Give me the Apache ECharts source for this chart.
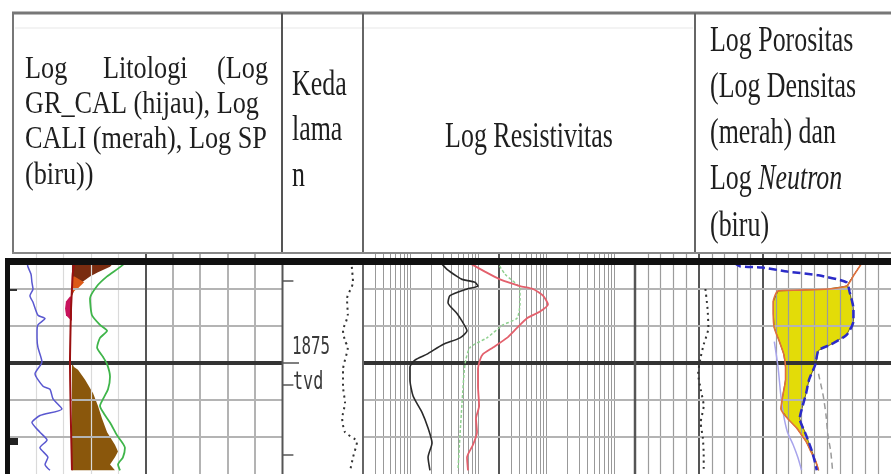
<!DOCTYPE html>
<html>
<head>
<meta charset="utf-8">
<script src="https://cdn.jsdelivr.net/npm/echarts@6/dist/echarts.min.js"></script>
<style>
html, body { margin: 0; padding: 0; background: #fff; }
#chart { width: 891px; height: 474px; }
</style>
</head>
<body>
<div id="chart"></div>
<script>
// kedalaman (tvd) dan garis grid
const gridDepths = [1855, 1865, 1885, 1895]
const markerDepth = 1875
const depthTicks = [1852.9, 1875, 1880.8, 1899.7]

// track 1 - litologi, skala 0-150
const spLog = [[9.9,1847.6],[10.4,1849],[12.1,1851],[12.6,1853.2],[13.2,1855],[11.5,1856.8],[13.2,1858.6],[15.9,1862.1],[19.8,1863],[15.9,1864.7],[15.4,1866.3],[15.4,1868.2],[15.9,1870.8],[18.1,1874.7],[14.3,1877.9],[18.7,1881.3],[22.5,1882.1],[24.2,1884.7],[29.1,1887.4],[17.0,1889.2],[12.6,1891.1],[17.0,1893.7],[20.9,1895.8],[17.0,1897.9],[21.4,1900.5],[19.8,1902.4],[22.5,1904]]
const caliLog = [[36,1847.6],[35,1851],[34.6,1855],[34.1,1860],[33.8,1866],[33.5,1875],[33.8,1885],[34.1,1893],[34.6,1904]]
const grCalLog = [[64.8,1847.6],[59.9,1849.5],[53.9,1851.6],[48.4,1854.2],[44.5,1857.6],[45.6,1862.1],[50,1864.7],[53.9,1866.3],[50,1868.2],[48.4,1870.8],[51.7,1873.4],[53.9,1875.3],[55.5,1878.7],[54.4,1882.1],[51.7,1884.7],[50,1886.6],[52.2,1888.7],[55.5,1891.1],[59.3,1894.5],[63.7,1897.9],[62.6,1900.5],[59.9,1902.4],[61,1904]]
// arsiran: [kedalaman, kiri, kanan]
const shadeUpper = [[1847.6,34.6,58.2],[1849,34.6,55.5],[1850.5,34.6,48.9],[1851.6,34.6,44.5],[1853.2,34.6,40.1],[1855,34.6,36.3],[1856.8,34.6,34.6]]
const shadeLower = [[1875,34.6,34.6],[1876.1,34.6,35.7],[1876.8,34.6,37.9],[1879.5,34.6,41.8],[1883.2,34.6,46.2],[1886.6,34.6,48.9],[1890,34.6,51.1],[1893.7,34.6,53.9],[1897.1,34.6,58.2],[1898.9,34.6,59.9],[1900.5,34.6,58.2],[1902.4,34.6,55.5],[1904,34.6,58.2]]
const shadeOrange = [[1851.6,34.6,36],[1852.5,34.6,39],[1853.2,34.6,41.3],[1854.5,34.6,38.5],[1856,34.6,34.6]]
const shadeMagenta = [[1857,33.5,34.6],[1858.4,31.3,34.6],[1860.3,30.8,34.6],[1862.1,31.3,34.6],[1863.5,34.1,34.6]]
const lito1Light = [15, 30, 45, 60]
const lito1Mid = [90, 105, 120, 135]
const lito1Dark = [75]

// track 2 - kedalaman
const depthCurve = [[86,1849],[87.5,1853.2],[80,1857.6],[81,1862.1],[75,1866.3],[77.5,1869],[81,1870.8],[75,1876.8],[75,1881.3],[77.5,1885.8],[74,1890],[77.5,1893.7],[92.5,1896.3],[87.5,1900.5],[84,1904]]

// track 3 - resistivitas (ohm.m, log 0.2 - 2000)
const resShallow = [[2.71,1847.6],[3.44,1849.7],[4.82,1851.6],[5.72,1852.4],[8.87,1853.2],[9.82,1854.2],[6.77,1855],[3.8,1856.8],[3.56,1858.7],[4.82,1861.6],[5.72,1863.7],[6.77,1866.3],[5.34,1868.2],[3.0,1870],[1.75,1872.6],[1.16,1874.2],[0.98,1876.1],[0.98,1879.5],[1.09,1883.9],[1.48,1888.4],[1.81,1892.6],[2.07,1896.6],[1.81,1900.5],[1.93,1904]]
const resDeep = [[6.77,1847.6],[12.4,1850.3],[20.7,1852.4],[40.7,1854.2],[63.2,1855],[88.7,1856.8],[105,1859.2],[80.2,1861.1],[51.6,1862.9],[36.8,1865.5],[26.2,1868.2],[16.3,1870.8],[11.6,1872.6],[10.5,1874.2],[9.82,1876.8],[9.82,1881.3],[10.2,1886.6],[9.18,1890],[9.5,1893.7],[8.3,1897.1],[6.77,1900.5],[7.0,1904]]
const resMed = [[18.7,1847.6],[24.5,1851],[40.7,1855],[40.7,1859],[36.8,1862.9],[22.9,1864.7],[13.3,1868.2],[7.5,1870.8],[6.32,1875.3],[5.72,1885.8],[5.34,1894.5],[4.99,1904]]
const resLight = [0.3,0.4,0.5,0.6,0.7,0.8,0.9,1,2,3,4,5,6,7,8,9,10,30,40,50,60,70,80,90,100,200,300,400,500,600,700,800,900,1000]
const resDark = [20]

// track 4 - porositas (densitas g/cc, neutron v/v 0.45 .. -0.15)
const rhobLog = [[2.84,1847.6],[2.807,1851],[2.777,1854.2],[2.704,1855],[2.593,1855.3],[2.509,1855.5],[2.49,1858.4],[2.49,1861.6],[2.494,1865.5],[2.513,1869],[2.531,1872.6],[2.538,1876.1],[2.538,1879.5],[2.527,1883.9],[2.52,1887.4],[2.546,1890],[2.582,1892.6],[2.601,1894.5],[2.619,1896.3],[2.637,1898.9],[2.656,1901.6],[2.667,1904]]
const nphiLog = [[0.218,1847.9],[0.203,1848.9],[0.152,1849.2],[0.093,1850.3],[0.02,1851.3],[-0.046,1853.2],[-0.053,1855.8],[-0.062,1860.3],[-0.062,1863.7],[-0.046,1867.4],[-0.009,1870],[0.02,1871.6],[0.027,1875.3],[0.042,1879.5],[0.049,1883.2],[0.057,1886.6],[0.064,1890],[0.049,1894.5],[0.035,1898.9],[0.027,1902.4],[0.024,1904]]
const nphiAlt = [[0.1235,1869.2],[0.1147,1876.1],[0.1081,1883.9],[0.1015,1889.2],[0.0926,1893.7],[0.0794,1897.1],[0.0684,1900.5],[0.0596,1904]]
const grayDash = [[0.0199,1877.9],[0.0088,1883.9],[0.0022,1889.2],[-0.0022,1894.5],[-0.0088,1898.9],[-0.013,1904]]
const auxLog = [[0.285,1855],[0.28,1860.3],[0.278,1865.5],[0.289,1870],[0.296,1873.4],[0.302,1877.9],[0.296,1882.1],[0.289,1886.6],[0.296,1891.1],[0.291,1895.3],[0.289,1899.7],[0.289,1904]]
const porLight = [0.42,0.39,0.36,0.33,0.27,0.24,0.21,0.18,0.12,0.09,0.06,0.03,0,-0.03,-0.06,-0.09,-0.12]
const porDark = [0.30, 0.15]

const rhobToAxis = r => 0.45 - (r - 1.95) * 0.6

const chart = echarts.init(document.getElementById('chart'), null, { renderer: 'canvas', width: 891, height: 474 })

const tracks = [
    { left: 9, width: 273, x: { type: 'value', min: 0, max: 150 } },
    { left: 283, width: 80, x: { type: 'value', min: 0, max: 100 } },
    { left: 363, width: 272, x: { type: 'log', logBase: 10, min: 0.2, max: 2000 } },
    { left: 635, width: 272, x: { type: 'value', min: -0.15, max: 0.45, inverse: true } },
]
const axisAnchor = [0, 0, 0.2, 0.45]

function lines(idx, xs, ys, style, z) {
    return {
        type: 'line', xAxisIndex: idx, yAxisIndex: idx, z: z, silent: true,
        data: [[axisAnchor[idx], 1845]], showSymbol: false, lineStyle: { opacity: 0 },
        markLine: {
            silent: true, symbol: ['none', 'none'], animation: false,
            label: { show: false }, lineStyle: style, emphasis: { disabled: true },
            data: xs.map(v => ({ xAxis: v })).concat(ys.map(v => ({ yAxis: v })))
        }
    }
}

function curve(idx, data, color, width, type, z) {
    return {
        type: 'line', xAxisIndex: idx, yAxisIndex: idx, data: data, z: z || 5,
        showSymbol: false, smooth: 0.2, silent: true, clip: true,
        lineStyle: { color: color, width: width, type: type || 'solid' }
    }
}

function fill(idx, rows, color, z) {
    return {
        type: 'custom', xAxisIndex: idx, yAxisIndex: idx, z: z || 3, silent: true, clip: true,
        data: rows.map(r => [r[1], r[0], r[2]]),
        encode: { x: [0, 2], y: 1 },
        renderItem(params, api) {
            if (params.dataIndex !== 0) return
            const right = rows.map(r => api.coord([r[2], r[0]]))
            const left = rows.map(r => api.coord([r[1], r[0]])).reverse()
            return { type: 'polygon', shape: { points: right.concat(left) }, style: { fill: color } }
        }
    }
}

function interp(c, d) {
    if (d <= c[0][1]) return c[0][0]
    for (let i = 1; i < c.length; i++) {
        if (d <= c[i][1]) {
            const t = (d - c[i - 1][1]) / (c[i][1] - c[i - 1][1])
            return c[i - 1][0] + t * (c[i][0] - c[i - 1][0])
        }
    }
    return c[c.length - 1][0]
}

// kuning: neutron di kanan densitas
const porDepths = Array.from(new Set(rhobLog.map(p => p[1]).concat(nphiLog.map(p => p[1])))).sort((a, b) => a - b)
const yellowFill = {
    type: 'custom', xAxisIndex: 3, yAxisIndex: 3, z: 3, silent: true, clip: true,
    data: rhobLog.map(p => [rhobToAxis(p[0]), p[1]]),
    renderItem(params, api) {
        if (params.dataIndex !== 0) return
        const left = [], right = []
        porDepths.forEach(d => {
            const pd = api.coord([rhobToAxis(interp(rhobLog, d)), d])
            const pn = api.coord([interp(nphiLog, d), d])
            left.push(pd)
            right.push([Math.max(pd[0], pn[0]), pd[1]])
        })
        return { type: 'polygon', shape: { points: right.concat(left.reverse()) },
            style: { fill: '#e3dc08', stroke: '#6d6a1c', lineWidth: 1 } }
    }
}

const hStyle = { color: '#b4b4b4', width: 2, type: 'solid' }
const thick = { color: '#333', width: 4, type: 'solid' }

const series = [
    lines(0, lito1Light, [], { color: '#dadada', width: 1.2, type: 'solid' }, 1),
    lines(0, lito1Mid, [], { color: '#9a9a9a', width: 1.5, type: 'solid' }, 1),
    lines(0, [], gridDepths, hStyle, 1),
    lines(0, lito1Dark, [], { color: '#555', width: 2, type: 'solid' }, 1),
    lines(2, resLight, [], { color: '#999', width: 1, type: 'solid' }, 1),
    lines(2, resDark, [], { color: '#555', width: 2, type: 'solid' }, 1),
    lines(2, [], gridDepths, hStyle, 1),
    lines(3, porLight, [], { color: '#9c9c9c', width: 1.2, type: 'solid' }, 1),
    lines(3, porDark, [], { color: '#555', width: 2, type: 'solid' }, 1),
    lines(3, [], gridDepths, hStyle, 1),
    fill(0, shadeUpper, '#7a2c10'),
    fill(0, shadeLower, '#8a570c'),
    fill(0, shadeOrange, '#dc5a18'),
    fill(0, shadeMagenta, '#c8125c'),
    yellowFill,
    curve(0, spLog, '#5a58d0', 1.5),
    curve(0, caliLog, '#9a1010', 2),
    curve(0, grCalLog, '#3fb54a', 1.8),
    curve(1, depthCurve, '#333', 2, [2, 4]),
    curve(2, resShallow, '#2a2a2a', 1.6),
    curve(2, resMed, '#8fd08f', 1.5, [3, 2]),
    curve(2, resDeep, '#e3606c', 1.8),
    curve(3, auxLog, '#333', 2, [2, 4]),
    curve(3, nphiAlt, '#a8a4ec', 1.5),
    curve(3, grayDash, '#9a9a9a', 1.5, [6, 4]),
    curve(3, rhobLog.map(p => [rhobToAxis(p[0]), p[1]]), '#e0703e', 1.6),
    curve(3, nphiLog, '#2b2bc8', 2.5, [8, 4]),
    lines(0, [], [markerDepth], thick, 8),
    lines(2, [], [markerDepth], thick, 8),
    lines(3, [], [markerDepth], thick, 8),
    {
        type: 'line', xAxisIndex: 1, yAxisIndex: 1, z: 8, silent: true,
        data: [[0, 1845]], showSymbol: false, lineStyle: { opacity: 0 },
        markLine: {
            silent: true, symbol: ['none', 'none'], animation: false, label: { show: false },
            lineStyle: { color: '#555', width: 1.5, type: 'solid' },
            data: depthTicks.map(d => [{ coord: [0, d] }, { coord: [d === markerDepth ? 20 : 13, d] }])
        }
    }
]

const font = (size, fam) => size + 'px ' + (fam || '"Liberation Serif", "Times New Roman", serif')
function txt(x, y, text, size, sx, align, extra) {
    return Object.assign({
        type: 'text', x: x, y: y, scaleX: sx, z: 50, silent: true,
        style: { text: text, font: font(size), fill: '#1e1e1e', align: align || 'left', verticalAlign: 'middle' }
    }, extra || {})
}
function seg(x1, y1, x2, y2, color, w) {
    return { type: 'line', z: 60, silent: true, shape: { x1, y1, x2, y2 }, style: { stroke: color, lineWidth: w } }
}

const graphic = [
    // tabel judul
    seg(15, 28, 693, 28, '#efefef', 1.5),
    seg(12, 13, 891, 13, '#777', 3),
    seg(13, 12, 13, 253, '#777', 2),
    seg(282, 13, 282, 253, '#555', 2),
    seg(363, 13, 363, 253, '#666', 2),
    seg(695, 13, 695, 253, '#666', 2),
    seg(12, 253, 891, 253, '#888', 2),
    txt(25, 70, 'Log', 32, 0.82),
    txt(103, 70, 'Litologi', 32, 0.82),
    txt(268, 70, '(Log', 32, 0.82, 'right'),
    txt(25, 105, 'GR_CAL (hijau), Log', 32, 0.82),
    txt(25, 140, 'CALI (merah), Log SP', 32, 0.82),
    txt(25, 176, '(biru))', 32, 0.82),
    txt(292, 86, 'Keda', 36, 0.72),
    txt(292, 131, 'lama', 36, 0.72),
    txt(292, 177, 'n', 36, 0.72),
    txt(529, 138, 'Log Resistivitas', 36, 0.72, 'center'),
    txt(710, 42, 'Log Porositas', 36, 0.72),
    txt(710, 88, '(Log Densitas', 36, 0.72),
    txt(710, 134, '(merah) dan', 36, 0.72),
    {
        type: 'text', x: 710, y: 180, scaleX: 0.72, z: 50, silent: true,
        style: { text: 'Log {i|Neutron}', font: font(36), fill: '#1e1e1e', verticalAlign: 'middle',
            rich: { i: { fontStyle: 'italic', fontSize: 36, fontFamily: '"Liberation Serif", serif', fill: '#1e1e1e' } } }
    },
    txt(710, 227, '(biru)', 36, 0.72),
    // bingkai log
    { type: 'rect', z: 60, silent: true, shape: { x: 5, y: 258, width: 886, height: 7 }, style: { fill: '#111' } },
    { type: 'rect', z: 60, silent: true, shape: { x: 5, y: 258, width: 5, height: 216 }, style: { fill: '#111' } },
    { type: 'rect', z: 60, silent: true, shape: { x: 10, y: 438, width: 8, height: 7 }, style: { fill: '#222' } },
    seg(10, 290, 17, 290, '#333', 2),
    seg(282.5, 265, 282.5, 474, '#555', 2),
    seg(363, 265, 363, 474, '#666', 2),
    seg(635, 265, 635, 474, '#555', 2.5),
    {
        type: 'text', x: 292, y: 348, scaleX: 0.66, z: 50, silent: true,
        style: { text: '1875', font: font(24, '"DejaVu Sans Mono", monospace'), fill: '#3a3a3a', verticalAlign: 'middle' }
    },
    {
        type: 'text', x: 293, y: 383, scaleX: 0.7, z: 50, silent: true,
        style: { text: 'tvd', font: font(24, '"DejaVu Sans Mono", monospace'), fill: '#3a3a3a', verticalAlign: 'middle' }
    }
]

chart.setOption({
    animation: false,
    backgroundColor: '#fff',
    grid: tracks.map(t => ({ left: t.left, width: t.width, top: 252, height: 228, containLabel: false })),
    xAxis: tracks.map((t, i) => Object.assign({ gridIndex: i, show: false }, t.x)),
    yAxis: tracks.map((t, i) => ({ gridIndex: i, type: 'value', min: 1845, max: 1905, inverse: true, show: false })),
    series: series,
    graphic: graphic
})
</script>
</body>
</html>
